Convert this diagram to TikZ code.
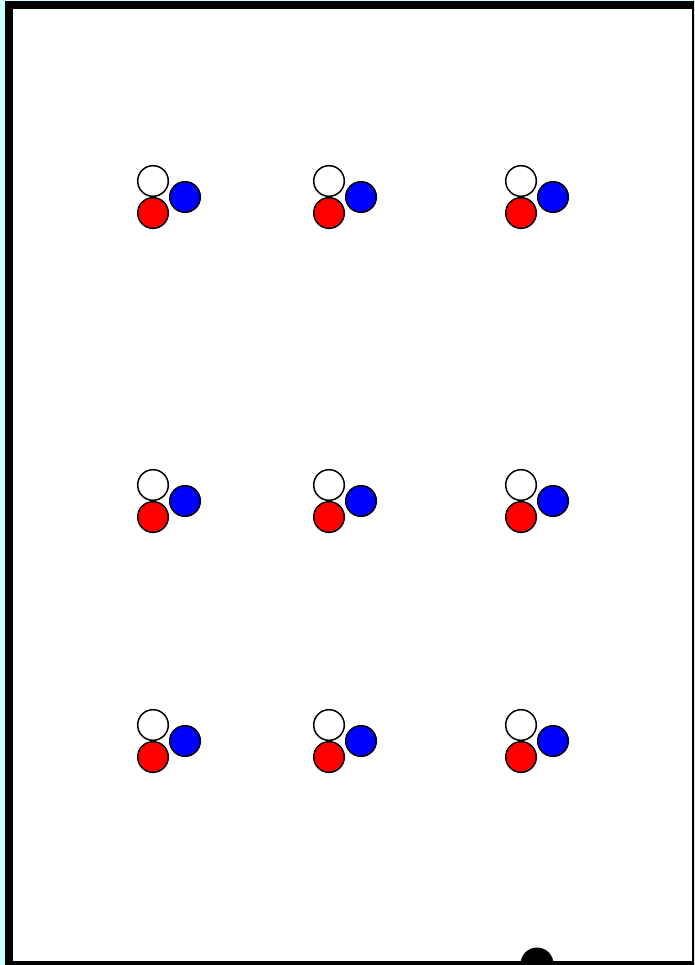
\documentclass[tikz,border=0pt]{standalone}
\usepackage{tikz}
\definecolor{paleCyan}{RGB}{204,255,255}

\begin{document}
\begin{tikzpicture}[x=1pt, y=-1pt,
    dotW/.style={draw=black, line width=1.5pt, fill=white},
    dotB/.style={draw=black, line width=1.5pt, fill=blue},
    dotR/.style={draw=black, line width=1.5pt, fill=red}]
\useasboundingbox (0, 0) rectangle (694, 965);
\clip (0, 0) rectangle (694, 965);
\fill[paleCyan] (0, 0) rectangle (694, 965);
\draw[line width=8pt, black, fill=white] (9, 5) rectangle (696, 965);
\fill[black] (537, 964) circle (16.5);

% top row
\draw[dotW] (153, 181) circle (15.3);
\draw[dotB] (185, 197) circle (15.3);
\draw[dotR] (153, 213) circle (15.3);
\draw[dotW] (329, 181) circle (15.3);
\draw[dotB] (361, 197) circle (15.3);
\draw[dotR] (329, 213) circle (15.3);
\draw[dotW] (521, 181) circle (15.3);
\draw[dotB] (553, 197) circle (15.3);
\draw[dotR] (521, 213) circle (15.3);

% middle row
\draw[dotW] (153, 485) circle (15.3);
\draw[dotB] (185, 501) circle (15.3);
\draw[dotR] (153, 517) circle (15.3);
\draw[dotW] (329, 485) circle (15.3);
\draw[dotB] (361, 501) circle (15.3);
\draw[dotR] (329, 517) circle (15.3);
\draw[dotW] (521, 485) circle (15.3);
\draw[dotB] (553, 501) circle (15.3);
\draw[dotR] (521, 517) circle (15.3);

% bottom row
\draw[dotW] (153, 725) circle (15.3);
\draw[dotB] (185, 741) circle (15.3);
\draw[dotR] (153, 757) circle (15.3);
\draw[dotW] (329, 725) circle (15.3);
\draw[dotB] (361, 741) circle (15.3);
\draw[dotR] (329, 757) circle (15.3);
\draw[dotW] (521, 725) circle (15.3);
\draw[dotB] (553, 741) circle (15.3);
\draw[dotR] (521, 757) circle (15.3);

\end{tikzpicture}
\end{document}
